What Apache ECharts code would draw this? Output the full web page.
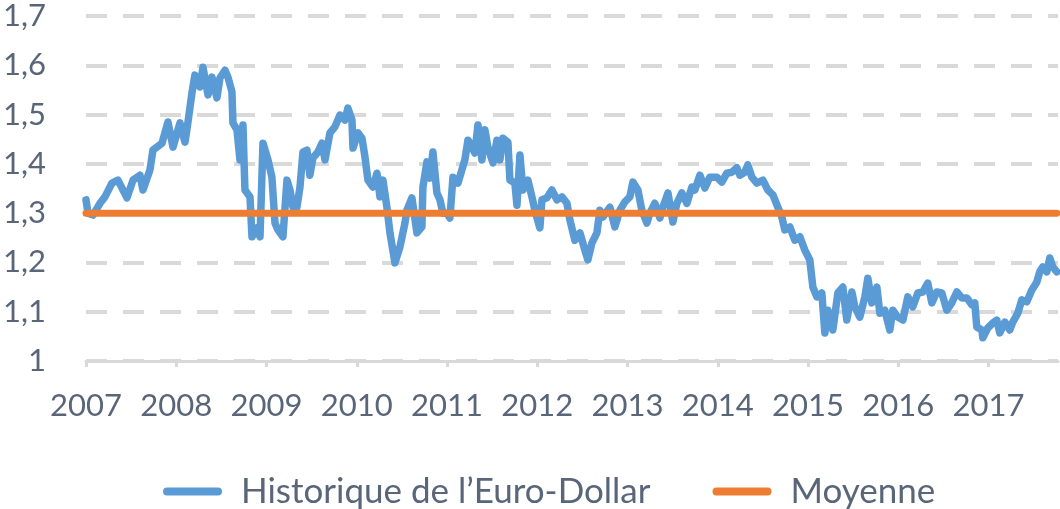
<!DOCTYPE html>
<html>
<head>
<meta charset="utf-8">
<script src="https://cdn.jsdelivr.net/npm/echarts@6/dist/echarts.min.js"></script>
<style>
html,body{margin:0;padding:0;background:#fff;}
#chart{width:1060px;height:509px;}
</style>
</head>
<body>
<div id="chart"></div>
<script>
// Decimal years and EUR/USD values
const dates = [
2007.000,2007.022,2007.078,2007.155,2007.210,2007.288,2007.354,2007.410,2007.454,2007.521,
2007.598,2007.631,2007.709,2007.742,2007.842,2007.908,2007.964,2008.041,2008.097,2008.130,
2008.174,2008.207,2008.263,2008.296,2008.352,2008.396,2008.451,2008.484,2008.540,2008.573,
2008.617,2008.628,2008.673,2008.706,2008.739,2008.761,2008.817,2008.839,2008.894,2008.928,
2008.961,2009.016,2009.060,2009.094,2009.127,2009.182,2009.227,2009.260,2009.293,2009.337,
2009.371,2009.404,2009.448,2009.481,2009.515,2009.570,2009.614,2009.648,2009.703,2009.758,
2009.814,2009.869,2009.902,2009.947,2009.958,2010.013,2010.058,2010.091,2010.124,2010.179,
2010.224,2010.257,2010.290,2010.334,2010.368,2010.423,2010.478,2010.534,2010.556,2010.611,
2010.667,2010.722,2010.733,2010.778,2010.811,2010.844,2010.888,2010.922,2010.955,2010.999,
2011.032,2011.066,2011.121,2011.198,2011.232,2011.254,2011.309,2011.343,2011.387,2011.420,
2011.453,2011.509,2011.553,2011.586,2011.619,2011.675,2011.697,2011.752,2011.775,2011.808,
2011.841,2011.896,2011.941,2011.974,2012.029,2012.052,2012.107,2012.162,2012.218,2012.273,
2012.329,2012.362,2012.417,2012.473,2012.528,2012.561,2012.605,2012.661,2012.694,2012.727,
2012.805,2012.860,2012.916,2012.971,2013.026,2013.060,2013.115,2013.159,2013.215,2013.248,
2013.303,2013.359,2013.392,2013.448,2013.503,2013.547,2013.602,2013.658,2013.713,2013.746,
2013.802,2013.857,2013.912,2013.990,2014.045,2014.101,2014.156,2014.211,2014.245,2014.300,
2014.333,2014.378,2014.433,2014.500,2014.555,2014.611,2014.666,2014.710,2014.743,2014.799,
2014.854,2014.910,2014.965,2015.020,2015.054,2015.098,2015.153,2015.187,2015.220,2015.275,
2015.331,2015.386,2015.430,2015.486,2015.519,2015.574,2015.630,2015.663,2015.707,2015.763,
2015.796,2015.851,2015.907,2015.940,2015.995,2016.051,2016.106,2016.161,2016.217,2016.272,
2016.327,2016.372,2016.427,2016.483,2016.538,2016.593,2016.649,2016.704,2016.760,2016.815,
2016.848,2016.870,2016.926,2016.937,2016.992,2017.048,2017.092,2017.125,2017.181,2017.236,
2017.269,2017.325,2017.369,2017.424,2017.480,2017.535,2017.568,2017.601,2017.646,2017.679,
2017.712,2017.757
];
const rates = [
1.327,1.300,1.296,1.320,1.333,1.361,1.367,1.347,1.331,1.367,
1.377,1.347,1.388,1.428,1.442,1.485,1.434,1.483,1.444,1.485,
1.544,1.580,1.556,1.596,1.540,1.576,1.534,1.574,1.590,1.576,
1.546,1.483,1.469,1.408,1.479,1.347,1.333,1.252,1.270,1.252,
1.442,1.408,1.373,1.280,1.266,1.252,1.367,1.347,1.312,1.312,
1.353,1.424,1.428,1.377,1.412,1.424,1.442,1.408,1.463,1.475,
1.499,1.489,1.513,1.489,1.432,1.463,1.452,1.414,1.367,1.353,
1.381,1.333,1.367,1.312,1.260,1.199,1.231,1.280,1.306,1.331,
1.260,1.272,1.353,1.404,1.371,1.424,1.341,1.327,1.300,1.300,
1.290,1.373,1.361,1.408,1.448,1.442,1.422,1.479,1.408,1.469,
1.434,1.402,1.448,1.408,1.452,1.444,1.367,1.361,1.316,1.418,
1.347,1.367,1.333,1.306,1.270,1.327,1.331,1.347,1.327,1.333,
1.320,1.286,1.245,1.260,1.225,1.205,1.239,1.260,1.306,1.292,
1.312,1.272,1.306,1.323,1.333,1.363,1.347,1.306,1.280,1.300,
1.320,1.290,1.312,1.341,1.282,1.320,1.341,1.320,1.353,1.347,
1.377,1.351,1.373,1.373,1.363,1.381,1.383,1.392,1.377,1.383,
1.398,1.373,1.361,1.367,1.347,1.337,1.312,1.292,1.266,1.272,
1.245,1.252,1.225,1.205,1.150,1.130,1.138,1.057,1.103,1.063,
1.138,1.150,1.083,1.140,1.110,1.089,1.130,1.168,1.118,1.150,
1.097,1.103,1.063,1.103,1.089,1.083,1.130,1.110,1.138,1.140,
1.158,1.118,1.140,1.138,1.103,1.118,1.140,1.128,1.128,1.114,
1.118,1.069,1.063,1.047,1.067,1.077,1.083,1.057,1.079,1.063,
1.079,1.097,1.124,1.120,1.144,1.160,1.181,1.191,1.181,1.209,
1.191,1.181
];
const moyenne = 1.30;
const yearTicks = [2007,2008,2009,2010,2011,2012,2013,2014,2015,2016,2017];
const seriesNames = ['Historique de l\u2019Euro-Dollar', 'Moyenne'];

const textColor = '#596679';
const fontFamily = 'Lato, "Noto Sans", sans-serif';
const xMax = 2017.77;

const histData = dates.map((d, i) => [d, rates[i]]);
const avgData = [[dates[0], moyenne], [dates[dates.length - 1], moyenne]];

const chart = echarts.init(document.getElementById('chart'), null, {renderer: 'canvas'});
chart.setOption({
  animation: false,
  backgroundColor: '#ffffff',
  textStyle: {fontFamily: fontFamily},
  grid: {left: 86, right: 2, top: 16, bottom: 148, containLabel: false},
  legend: {
    left: 158, top: 469,
    itemWidth: 59, itemHeight: 8, itemGap: 62,
    icon: 'path://M4,0 H55 A4,4 0 0 1 55,8 H4 A4,4 0 0 1 4,0 Z',
    textStyle: {color: textColor, fontSize: 35, fontFamily: fontFamily, padding: [0, 0, 0, 14]},
    data: seriesNames
  },
  xAxis: {
    type: 'value', min: 2007, max: xMax,
    axisLine: {show: true, lineStyle: {color: '#d9d9d9', width: 3}},
    axisTick: {show: true, length: 6, lineStyle: {color: '#d9d9d9', width: 3}, customValues: yearTicks},
    axisLabel: {
      customValues: yearTicks,
      color: textColor, fontSize: 31, fontFamily: fontFamily, margin: 29,
      formatter: v => String(Math.round(v))
    },
    splitLine: {show: false}
  },
  yAxis: {
    type: 'value', min: 1, max: 1.7, interval: 0.1,
    axisLine: {show: false}, axisTick: {show: false},
    axisLabel: {
      color: textColor, fontSize: 31, fontFamily: fontFamily, margin: 40,
      formatter: v => String(Number(v.toFixed(1))).replace('.', ',')
    },
    splitLine: {show: true, lineStyle: {color: '#d9d9d9', width: 4, type: [21, 16]}}
  },
  series: [
    {
      name: seriesNames[0], type: 'line', data: histData,
      showSymbol: false, symbol: 'none',
      lineStyle: {color: '#5b9bd5', width: 7.5, cap: 'round', join: 'round'},
      itemStyle: {color: '#5b9bd5'}
    },
    {
      name: seriesNames[1], type: 'line', data: avgData,
      showSymbol: false, symbol: 'none',
      lineStyle: {color: '#ed7d31', width: 7, cap: 'round', join: 'round'},
      itemStyle: {color: '#ed7d31'}
    }
  ]
});
</script>
</body>
</html>
